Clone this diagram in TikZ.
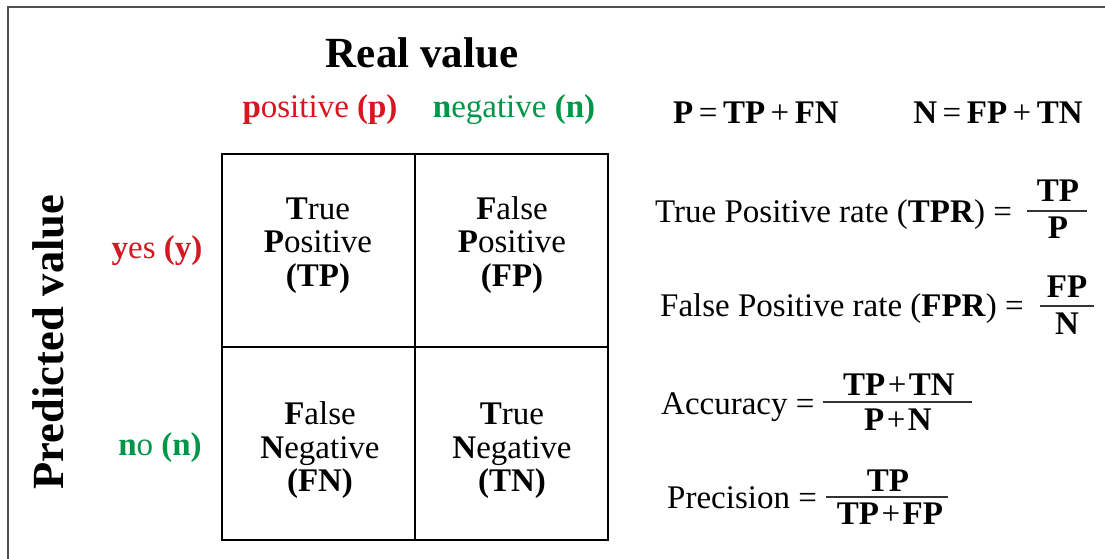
\documentclass[tikz,border=0pt]{standalone}
\usepackage{fontspec}
\setmainfont{Liberation Serif}
\definecolor{myred}{RGB}{214,22,32}
\definecolor{mygreen}{RGB}{0,150,72}
\definecolor{frame}{RGB}{80,80,80}
\newcommand\fsz[1]{\fontsize{#1}{#1}\selectfont}
\newcommand\opsp{\hspace{5.5pt}}
\newcommand\tsp{\hspace{2.5pt}}
\begin{document}
\begin{tikzpicture}[x=1pt,y=-1pt,
  lbl/.style={inner sep=0pt, anchor=base, font=\fsz{33}},
  big/.style={inner sep=0pt, anchor=base, font=\fsz{43}\bfseries},
  lft/.style={inner sep=0pt, anchor=base west, font=\fsz{33}},
  cell/.style={draw, line width=2pt, minimum size=193pt, inner sep=0pt},
  fracline/.style={line width=1.2pt, black!80}]
\useasboundingbox (0,0) rectangle (1105,558);
\fill[white] (0,0) rectangle (1105,558);
% frame
\coordinate (ftl) at (8,7);
\coordinate (ftr) at (1106,7);
\coordinate (fbl) at (8,559);
\draw[frame, line width=2.5pt] (fbl) -- (ftl) -- (ftr);
% titles
\node[big] (real) at (422,67) {Real value};
\node[big, font=\fsz{44.5}\bfseries, rotate=90] (pred) at (63,342) {Predicted value};
\node[lbl, text=myred] (pos) at (320,117) {\textbf{p}ositive \textbf{(p)}};
\node[lbl, text=mygreen] (neg) at (514,117) {\textbf{n}egative \textbf{(n)}};
\node[lbl, text=myred] (yes) at (157,258) {\textbf{y}es \textbf{(y)}};
\node[lbl, text=mygreen] (no) at (160,455) {\textbf{n}o \textbf{(n)}};
% matrix cells
\node[cell] (ctp) at (318.5,250.5) {};
\node[cell] (cfp) at (511.5,250.5) {};
\node[cell] (cfn) at (318.5,443.5) {};
\node[cell] (ctn) at (511.5,443.5) {};
\node[lbl] (tp1) at (318,219) {\textbf{T}rue};
\node[lbl] (tp2) at (318,252) {\textbf{P}ositive};
\node[lbl] (tp3) at (318,286) {\textbf{(TP)}};
\node[lbl] (fp1) at (512,219) {\textbf{F}alse};
\node[lbl] (fp2) at (512,252) {\textbf{P}ositive};
\node[lbl] (fp3) at (512,286) {\textbf{(FP)}};
\node[lbl] (fn1) at (320,424) {\textbf{F}alse};
\node[lbl] (fn2) at (320,458) {\textbf{N}egative};
\node[lbl] (fn3) at (320,491) {\textbf{(FN)}};
\node[lbl] (tn1) at (512,424) {\textbf{T}rue};
\node[lbl] (tn2) at (512,458) {\textbf{N}egative};
\node[lbl] (tn3) at (512,491) {\textbf{(TN)}};
% P and N
\node[lbl] (peq) at (756,123) {\textbf{P}\opsp=\opsp\textbf{TP}\opsp+\opsp\textbf{FN}};
\node[lbl] (neq) at (998,123) {\textbf{N}\opsp=\opsp\textbf{FP}\opsp+\opsp\textbf{TN}};
% TPR
\node[lft] (tpr) at (655,222) {True Positive rate (\textbf{TPR}) =};
\node[lbl] (tprn) at (1058,201) {\textbf{TP}};
\node[lbl] (tprd) at (1058,238) {\textbf{P}};
\coordinate (tprl) at (1027,211); \coordinate (tprr) at (1087,211);
\draw[fracline] (tprl) -- (tprr);
% FPR
\node[lft] (fpr) at (660,316) {False Positive rate (\textbf{FPR}) =};
\node[lbl] (fprn) at (1067,297) {\textbf{FP}};
\node[lbl] (fprd) at (1067,334) {\textbf{N}};
\coordinate (fprl) at (1040,306); \coordinate (fprr) at (1094,306);
\draw[fracline] (fprl) -- (fprr);
% Accuracy
\node[lft] (acc) at (661,414) {Accuracy =};
\node[lbl] (accn) at (899,395) {\textbf{TP}\tsp+\tsp\textbf{TN}};
\node[lbl] (accd) at (898,430) {\textbf{P}\tsp+\tsp\textbf{N}};
\coordinate (accl) at (823,402); \coordinate (accr) at (972,402);
\draw[fracline] (accl) -- (accr);
% Precision
\node[lft] (prec) at (667,508) {Precision =};
\node[lbl] (precn) at (888,491) {\textbf{TP}};
\node[lbl] (precd) at (890,524) {\textbf{TP}\tsp+\tsp\textbf{FP}};
\coordinate (precl) at (826,497); \coordinate (precr) at (948,497);
\draw[fracline] (precl) -- (precr);
\end{tikzpicture}
\end{document}
